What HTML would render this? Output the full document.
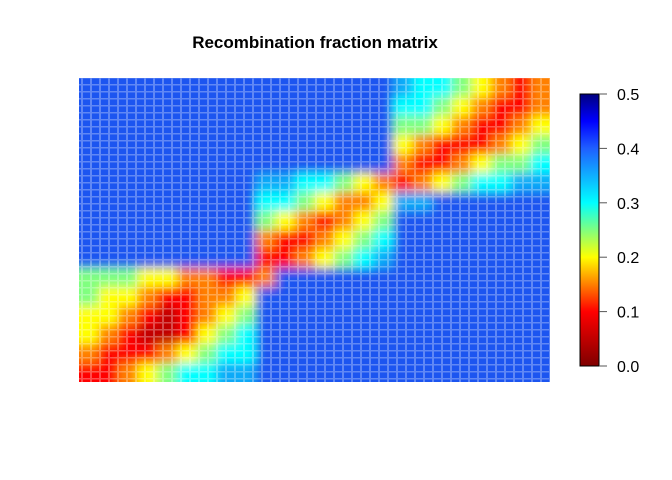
<!DOCTYPE html>
<html><head><meta charset="utf-8">
<style>
html,body{margin:0;padding:0;background:#fff;}
svg{display:block;font-family:"Liberation Sans",Arial,sans-serif;}
</style></head>
<body>
<svg id="chart" width="672" height="480" viewBox="0 0 672 480">
<defs>
<pattern id="gaps" width="9" height="7" patternUnits="userSpaceOnUse">
<rect x="0" y="0" width="2" height="7" fill="#fff"/>
<rect x="0" y="0" width="9" height="1.5" fill="#fff"/>
</pattern>
<filter id="blur" x="0" y="0" width="1" height="1"><feGaussianBlur stdDeviation="5"/></filter>
<clipPath id="plotclip"><rect x="79" y="78" width="471" height="304"/></clipPath>
<linearGradient id="cbar" x1="0" y1="1" x2="0" y2="0">
<stop offset="0" stop-color="#7f0000"/>
<stop offset="0.2" stop-color="#ff0000"/>
<stop offset="0.3" stop-color="#ff8000"/>
<stop offset="0.4" stop-color="#ffff00"/>
<stop offset="0.6" stop-color="#00ffff"/>
<stop offset="0.8" stop-color="#1f5fff"/>
<stop offset="0.9" stop-color="#0000ff"/>
<stop offset="1" stop-color="#00007f"/>
</linearGradient>
</defs>
<text x="315" y="48" text-anchor="middle" font-size="17" font-weight="bold">Recombination fraction matrix</text>
<g clip-path="url(#plotclip)"><g id="cells" filter="url(#blur)"></g></g>
<rect x="79" y="78" width="471" height="304" fill="url(#gaps)" opacity="0.3"/>
<rect x="580" y="94" width="19" height="272" fill="url(#cbar)" stroke="#000" stroke-width="1"/>
<g id="cticks"></g>
</svg>
<script>
// coarse grid of recombination fractions in units of 0.05, rows top->bottom
const gridRows = [
"888888888888888876654323",
"888888888888888866543223",
"888888888888888855432234",
"888888888888888843222345",
"888888888888888832234556",
"888888888776654323456677",
"888888888665433477888888",
"888888888543234588888888",
"888888888322345688888888",
"888888888223456788888888",
"555443322388888888888888",
"544322334888888888888888",
"443212345888888888888888",
"432112456888888888888888",
"322234566888888888888888",
"223456677888888888888888"
];
const scaleTicks = [0.0, 0.1, 0.2, 0.3, 0.4, 0.5];
const scaleLabels = ["0.0","0.1","0.2","0.3","0.4","0.5"];

const NS = "http://www.w3.org/2000/svg";
const px0 = 79, px1 = 550, py0 = 78, py1 = 382;
const nCols = gridRows[0].length, nRows = gridRows.length;
const xCell = c => px0 + c * (px1 - px0) / nCols;
const yCell = r => py0 + r * (py1 - py0) / nRows;
const cbTop = 94, cbBot = 366;
const yScale = v => cbBot - v / 0.5 * (cbBot - cbTop);
const stops = [[0,[127,0,0]],[0.1,[255,0,0]],[0.15,[255,128,0]],[0.2,[255,255,0]],[0.3,[0,255,255]],[0.4,[31,85,240]],[0.45,[0,0,255]],[0.5,[0,0,127]]];
function color(v){
  for(let i=1;i<stops.length;i++){
    if(v<=stops[i][0]){
      const a=stops[i-1],b=stops[i],t=(v-a[0])/(b[0]-a[0]);
      const c=a[1].map((x,k)=>Math.round(x+(b[1][k]-x)*t));
      return `rgb(${c[0]},${c[1]},${c[2]})`;
    }
  }
  return "rgb(0,0,127)";
}
const g = document.getElementById("cells");
gridRows.forEach((row, r) => {
  row.split("").forEach((d, c) => {
    const v = Number(d) * 0.05;
    const rect = document.createElementNS(NS, "rect");
    const x0 = c === 0 ? px0 - 12 : xCell(c);
    const x1 = c === nCols - 1 ? px1 + 12 : xCell(c+1);
    const y0 = r === 0 ? py0 - 12 : yCell(r);
    const y1 = r === nRows - 1 ? py1 + 12 : yCell(r+1);
    rect.setAttribute("x", x0);
    rect.setAttribute("y", y0);
    rect.setAttribute("width", x1 - x0 + 0.5);
    rect.setAttribute("height", y1 - y0 + 0.5);
    rect.setAttribute("fill", color(v));
    
    
    g.appendChild(rect);
  });
});
const t = document.getElementById("cticks");
scaleTicks.forEach((v, i) => {
  const y = yScale(v);
  const ln = document.createElementNS(NS, "line");
  ln.setAttribute("x1", 599); ln.setAttribute("x2", 607);
  ln.setAttribute("y1", y); ln.setAttribute("y2", y);
  ln.setAttribute("stroke", "#555");
  
  
  t.appendChild(ln);
  const tx = document.createElementNS(NS, "text");
  tx.setAttribute("x", 617); tx.setAttribute("y", y + 6);
  tx.setAttribute("font-size", "16");
  tx.textContent = scaleLabels[i];
  
  
  t.appendChild(tx);
});
</script>
</body></html>
